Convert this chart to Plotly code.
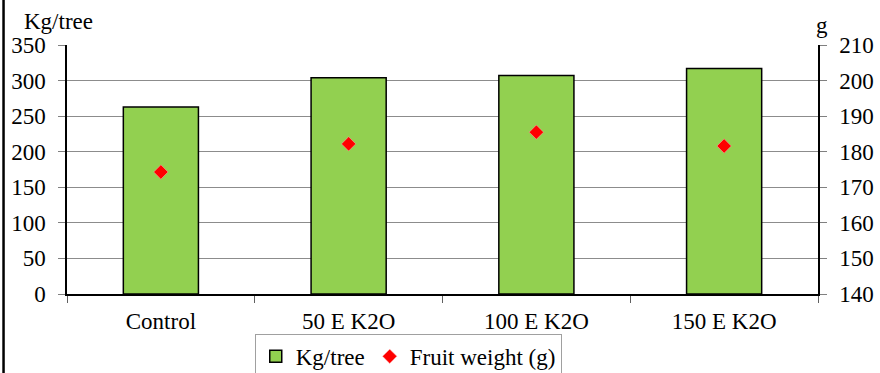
import plotly.graph_objects as go

categories = ["Control", "50 E K2O", "100 E K2O", "150 E K2O"]
kg_per_tree = [263, 304, 307, 317]
fruit_weight = [174.3, 182.2, 185.5, 181.6]
left_ticks = [0, 50, 100, 150, 200, 250, 300, 350]
right_ticks = [140, 150, 160, 170, 180, 190, 200, 210]

FONT = "Liberation Serif"
FS = 23

fig = go.Figure()
fig.add_trace(go.Bar(
    x=categories, y=kg_per_tree, name="Kg/tree",
    marker=dict(color="#92d050", line=dict(color="#000000", width=1.5)),
    yaxis="y",
))
fig.add_trace(go.Scatter(
    x=categories, y=fruit_weight, name="Fruit weight (g)", mode="markers",
    marker=dict(symbol="diamond", color="#ff0000", size=11,
                line=dict(color="#ffb0b0", width=0.5)),
    yaxis="y2",
))

fig.update_layout(
    width=880, height=373,
    margin=dict(l=67, r=62, t=45, b=79, autoexpand=False),
    paper_bgcolor="white", plot_bgcolor="white",
    font=dict(family=FONT, size=FS, color="#000000"),
    bargap=0.6,
    showlegend=True,
    legend=dict(
        orientation="h", x=0.25, xanchor="left", y=-0.16, yanchor="top",
        bordercolor="#a0a0a0", borderwidth=1, bgcolor="white",
        font=dict(family=FONT, size=FS), itemwidth=30,
        traceorder="normal",
    ),
    xaxis=dict(
        type="category", categoryorder="array", categoryarray=categories,
        showline=True, linecolor="#000000", linewidth=1.5,
        ticks="outside", tickson="boundaries", ticklen=7, tickcolor="#606060",
        showgrid=False, zeroline=False, ticklabelstandoff=6,
        tickfont=dict(family=FONT, size=FS),
    ),
    yaxis=dict(
        range=[0, 350], tickvals=left_ticks,
        showline=True, linecolor="#000000", linewidth=1.5,
        ticks="outside", ticklen=7, tickcolor="#808080",
        showgrid=True, gridcolor="#8c8c8c", gridwidth=1, ticklabelstandoff=8,
        zeroline=False, tickfont=dict(family=FONT, size=FS),
    ),
    yaxis2=dict(
        range=[140, 210], tickvals=right_ticks, overlaying="y", side="right",
        showline=True, linecolor="#000000", linewidth=1.5,
        ticks="outside", ticklen=7, tickcolor="#808080", ticklabelstandoff=8,
        showgrid=False, zeroline=False, tickfont=dict(family=FONT, size=FS),
    ),
    annotations=[
        dict(text="Kg/tree", xref="paper", yref="paper", x=-0.060, y=1.095,
             xanchor="left", yanchor="middle", showarrow=False,
             font=dict(family=FONT, size=FS)),
        dict(text="g", xref="paper", yref="paper", x=1.005, y=1.08,
             xanchor="center", yanchor="middle", showarrow=False,
             font=dict(family=FONT, size=FS)),
    ],
    shapes=[
        dict(type="line", xref="paper", yref="paper", x0=-0.0845, x1=-0.0845,
             y0=-0.5, y1=1.3, line=dict(color="#000000", width=2.5)),
    ],
)

fig.write_html(
    "out.html",
    config={"displayModeBar": False},
    post_script="document.body.style.margin='0';document.body.style.overflow='hidden';",
)
